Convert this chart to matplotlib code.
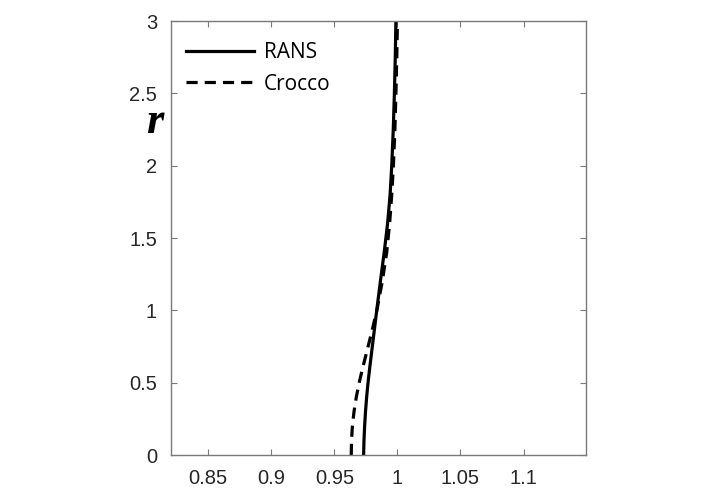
import matplotlib
matplotlib.use('Agg')
import matplotlib.pyplot as plt

# profiles
r = [0, 0.1, 0.2, 0.3, 0.4, 0.5, 0.6, 0.7, 0.8, 0.9, 1.0,
     1.2, 1.4, 1.6, 1.8, 2.0, 2.25, 2.5, 2.75, 3.0]
rans = [0.9732, 0.9735, 0.974, 0.9747, 0.9756, 0.9767, 0.978, 0.9794,
        0.9808, 0.9822, 0.9836, 0.9865, 0.9895, 0.9922, 0.9942, 0.9955,
        0.9967, 0.9976, 0.9983, 0.9988]
crocco = [0.9634, 0.9636, 0.9643, 0.9656, 0.9674, 0.9697, 0.9724, 0.9753,
          0.9782, 0.981, 0.9837, 0.988, 0.9915, 0.9938, 0.9955, 0.9968,
          0.998, 0.9988, 0.9995, 1.0]
xticks = [0.85, 0.9, 0.95, 1, 1.05, 1.1]
xticklabels = ['0.85', '0.9', '0.95', '1', '1.05', '1.1']
yticks = [0, 0.5, 1, 1.5, 2, 2.5, 3]
yticklabels = ['0', '0.5', '1', '1.5', '2', '2.5', '3']

fig = plt.figure(figsize=(7.2, 4.98), dpi=100)
ax = fig.add_axes([171 / 720, 1 - 455 / 498, 415 / 720, 434 / 498])

ax.plot(rans, r, color='black', lw=2.3, label='RANS')
ax.plot(crocco, r, color='black', lw=2.3, ls=(0, (3.5, 2.2)), label='Crocco')

ax.set_xlim(0.8205, 1.1495)
ax.set_ylim(0, 3)
ax.set_xticks(xticks)
ax.set_xticklabels(xticklabels)
ax.set_yticks(yticks)
ax.set_yticklabels(yticklabels)

for s in ax.spines.values():
    s.set_color('#7a7a7a')
    s.set_linewidth(1.0)
ax.tick_params(direction='in', length=4, width=0.8, color='#7a7a7a',
               top=True, right=True, labelsize=14.5, labelcolor='#262626',
               pad=10)
for lab in ax.get_xticklabels() + ax.get_yticklabels():
    lab.set_family('Liberation Sans')

ax.legend(loc='upper left', bbox_to_anchor=(0.0, 0.985), frameon=False,
          handlelength=3.3, prop={'family': 'Open Sans', 'size': 15},
          borderaxespad=0.3, handletextpad=0.45, labelspacing=0.5)

fig.text(155 / 720, 1 - 122 / 498, 'r', family='Liberation Serif',
         style='italic', weight='bold', fontsize=32, ha='center', va='center')

fig.savefig('out.png', dpi=100, facecolor='white')
